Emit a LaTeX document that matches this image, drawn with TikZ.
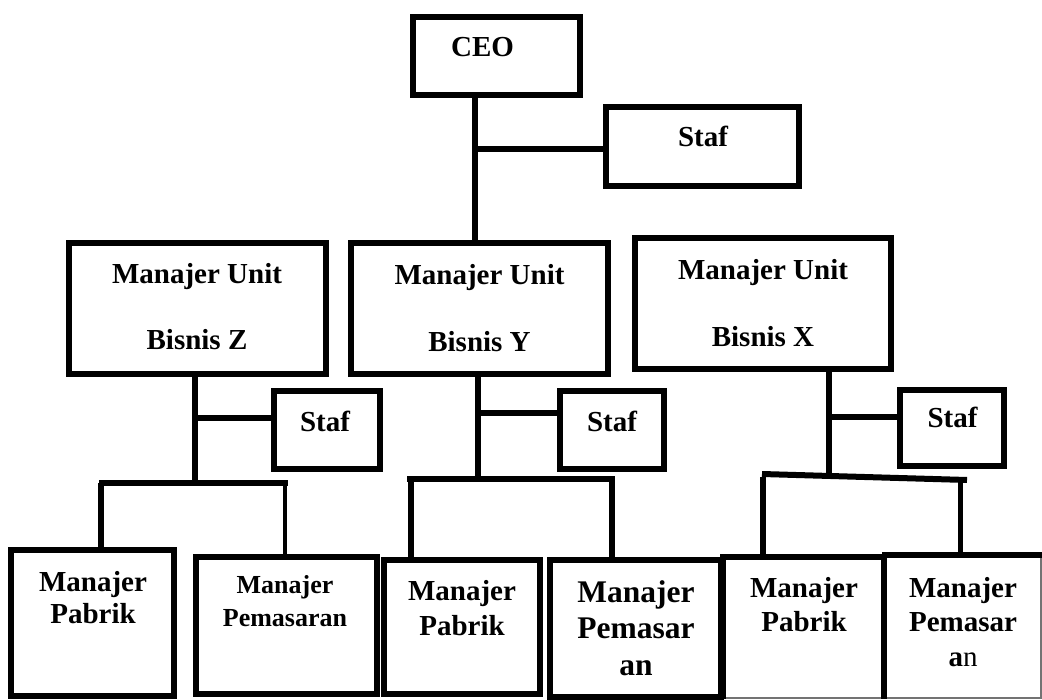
\documentclass[tikz,border=0pt]{standalone}
\usepackage{fontspec}
\setmainfont{Liberation Serif}
\usetikzlibrary{calc}
\begin{document}
\begin{tikzpicture}[x=1pt,y=-1pt,
  box/.style={draw=black,line width=6pt,fill=white,inner sep=0pt,rectangle},
  thinbox/.style={draw=black!55,line width=1.2pt,fill=white,inner sep=0pt,rectangle},
  edge/.style={draw=black,line width=6pt},
  lbl/.style={inner sep=0pt,align=center,font=\bfseries},
]
\useasboundingbox (0,0) rectangle (1042,700);
\fill[white] (0,0) rectangle (1042,700);

% ---- boxes ----
\node[box,minimum width=167pt,minimum height=78pt] (ceo) at (496.5,56) {};
\node[box,minimum width=193pt,minimum height=79pt] (staf) at (702.5,146.5) {};
\node[box,minimum width=257pt,minimum height=131pt] (uz) at (197.5,308.5) {};
\node[box,minimum width=257pt,minimum height=131pt] (uy) at (479.5,308.5) {};
\node[box,minimum width=256pt,minimum height=131pt] (ux) at (763,303.5) {};
\node[box,minimum width=106pt,minimum height=78pt] (sz) at (327,430) {};
\node[box,minimum width=104pt,minimum height=78pt] (sy) at (612,430) {};
\node[box,minimum width=104pt,minimum height=76pt] (sx) at (952,428) {};
\node[box,minimum width=163pt,minimum height=146pt] (pz) at (92.5,623) {};
\node[box,minimum width=181pt,minimum height=137pt] (mz) at (286.5,625.5) {};
\node[box,minimum width=156pt,minimum height=134pt] (py) at (462,627) {};
\node[box,minimum width=171pt,minimum height=137pt] (my) at (635.5,628.5) {};
\node[thinbox,minimum width=159pt,minimum height=140pt] (px) at (803.5,628) {};
\node[thinbox,minimum width=158pt,minimum height=142pt] (mx) at (962,627) {};
\draw[edge] (px.south west) -- (px.north west) -- (px.north east) -- (px.south east);
\draw[edge] (mx.north west) -- (mx.north east);

% ---- helper coordinates for trunk lines ----
\coordinate (tc) at (475,0);
\coordinate (tz) at (195,0);
\coordinate (ty) at (478,0);
\coordinate (tx) at (829,0);
\coordinate (bz) at (0,483);
\coordinate (by) at (0,479);
\coordinate (bx) at (0,477);
\coordinate (pzc) at (101,0);
\coordinate (mzc) at (285,0);
\coordinate (pyc) at (411,0);
\coordinate (myc) at (612,0);
\coordinate (pxc) at (763,0);
\coordinate (mxc) at (960,0);

% ---- connectors ----
\draw[edge] (ceo.south -| tc) -- (uy.north -| tc);
\draw[edge] ([yshift=-2.5pt]staf.west) -- ([yshift=-2.5pt]staf.west -| tc);

\draw[edge] (uz.south -| tz) -- (bz -| tz);
\draw[edge] ([yshift=12pt]sz.west) -- ([yshift=12pt]sz.west -| tz);
\draw[edge] ($(bz -| pzc)+(-2,0)$) -- ($(bz -| mzc)+(3,0)$);
\draw[edge] (bz -| pzc) -- (pz.north -| pzc);
\draw[edge,line width=4.5pt] (bz -| mzc) -- (mz.north -| mzc);

\draw[edge] (uy.south -| ty) -- (by -| ty);
\draw[edge] ([yshift=17pt]sy.west) -- ([yshift=17pt]sy.west -| ty);
\draw[edge] ($(by -| pyc)+(-4,0)$) -- ($(by -| myc)+(3,0)$);
\draw[edge] (by -| pyc) -- (py.north -| pyc);
\draw[edge] (by -| myc) -- (my.north -| myc);

\draw[edge] (ux.south -| tx) -- (bx -| tx);
\draw[edge] ([yshift=11pt]sx.west) -- ([yshift=11pt]sx.west -| tx);
\draw[edge] ($(bx -| pxc)+(-1,-3)$) -- ($(bx -| mxc)+(7,3)$);
\draw[edge] (bx -| pxc) -- (px.north -| pxc);
\draw[edge,line width=5pt] ($(bx -| mxc)+(0,3)$) -- (mx.north -| mxc);

% ---- texts ----
\node[lbl,anchor=base,font=\bfseries\fontsize{29}{33}\selectfont] (tceo) at (482.5,57) {CEO};
\node[lbl,anchor=base,font=\bfseries\fontsize{29}{33}\selectfont] (tstaf) at (703,147) {Staf};
\node[lbl,anchor=base,font=\bfseries\fontsize{29}{33}\selectfont] (tsz) at (325,432) {Staf};
\node[lbl,anchor=base,font=\bfseries\fontsize{29}{33}\selectfont] (tsy) at (612,432) {Staf};
\node[lbl,anchor=base,font=\bfseries\fontsize{29}{33}\selectfont] (tsx) at (952.5,428) {Staf};

\node[lbl,anchor=north,font=\bfseries\fontsize{29}{66}\selectfont] (tuz) at (197,236.8) {\strut Manajer Unit\\\strut Bisnis Z};
\node[lbl,anchor=north,font=\bfseries\fontsize{29}{67}\selectfont] (tuy) at (479.5,237.1) {\strut Manajer Unit\\\strut Bisnis Y};
\node[lbl,anchor=north,font=\bfseries\fontsize{29}{67}\selectfont] (tux) at (763,232.1) {\strut Manajer Unit\\\strut Bisnis X};

\node[lbl,anchor=north,font=\bfseries\fontsize{29}{32}\selectfont] (tpz) at (93,568.6) {\strut Manajer\\\strut Pabrik};
\node[lbl,anchor=north,font=\bfseries\fontsize{26}{33}\selectfont] (tmz) at (285,569.9) {\strut Manajer\\\strut Pemasaran};
\node[lbl,anchor=north,font=\bfseries\fontsize{29}{35}\selectfont] (tpy) at (462,575.5) {\strut Manajer\\\strut Pabrik};
\node[lbl,anchor=north,font=\bfseries\fontsize{31.5}{36.5}\selectfont] (tmy) at (636,576.45) {\strut Manajer\\\strut Pemasar\\\strut an};
\node[lbl,anchor=north,font=\bfseries\fontsize{29}{34}\selectfont] (tpx) at (804,573.2) {\strut Manajer\\\strut Pabrik};
\node[lbl,anchor=north,font=\bfseries\fontsize{29}{34.5}\selectfont] (tmx) at (963,572.85) {\strut Manajer\\\strut Pemasar\\\strut a{\mdseries n}};
\end{tikzpicture}
\end{document}
